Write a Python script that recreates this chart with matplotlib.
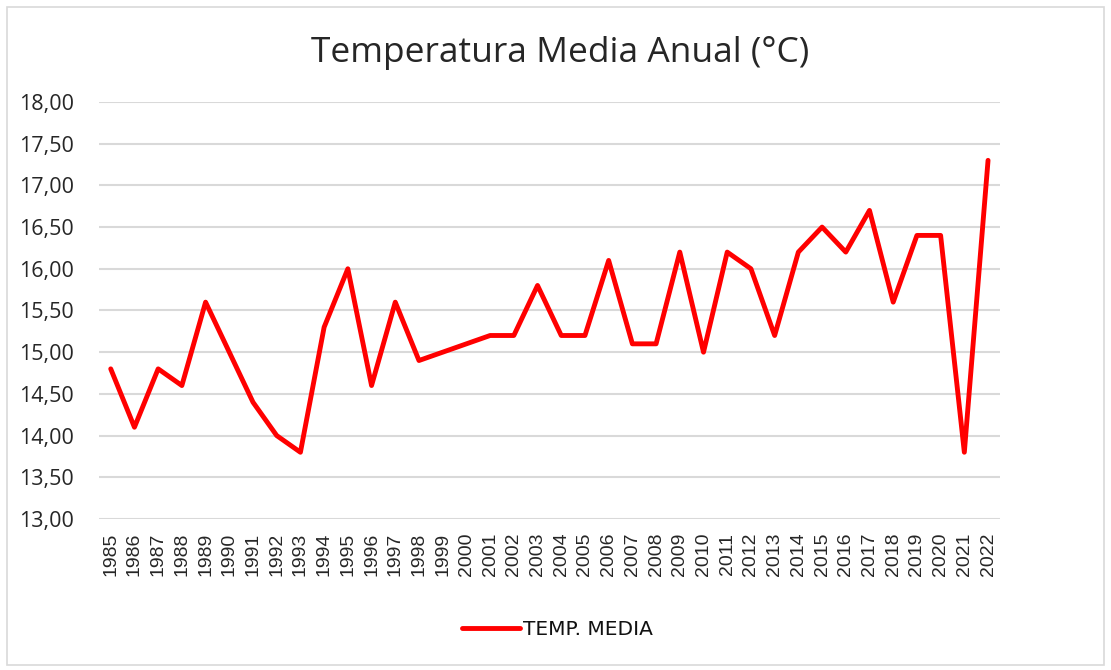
import numpy as np
import matplotlib.pyplot as plt
from matplotlib.patches import Rectangle

years = [str(y) for y in range(1985, 2023)]
temp_media = [14.8, 14.1, 14.8, 14.6, 15.6, 15.0, 14.4, 14.0, 13.8, 15.3,
              16.0, 14.6, 15.6, 14.9, 15.0, 15.1, 15.2, 15.2, 15.8, 15.2,
              15.2, 16.1, 15.1, 15.1, 16.2, 15.0, 16.2, 16.0, 15.2, 16.2,
              16.5, 16.2, 16.7, 15.6, 16.4, 16.4, 13.8, 17.3]
y_ticks = np.arange(13.0, 18.01, 0.5)

fig = plt.figure(figsize=(11.11, 6.70), dpi=100)
ax = fig.add_axes([0.089, 0.2254, 0.811, 0.6224])

x = np.arange(len(years))
ax.plot(x, temp_media, color='#ff0000', linewidth=3.5, label='TEMP. MEDIA',
        solid_joinstyle='round', solid_capstyle='round')

ax.set_xlim(-0.5, len(years) - 0.5)
ax.set_ylim(13, 18)
ax.set_yticks(y_ticks)
ax.set_yticklabels([f'{v:.2f}'.replace('.', ',') for v in y_ticks],
                   fontsize=15.5, color='#262626', family='Open Sans')
ax.set_xticks(x)
ax.set_xticklabels(years, rotation=90, fontsize=14, color='#262626',
                   family='Liberation Sans')
ax.tick_params(axis='y', length=0, pad=18)
ax.tick_params(axis='x', length=0, pad=10)
ax.grid(axis='y', color='#d9d9d9', linewidth=1.5)
ax.set_axisbelow(True)
for s in ax.spines.values():
    s.set_visible(False)

fig.text(0.504, 0.921, 'Temperatura Media Anual (°C)', ha='center', va='center',
         fontsize=25.5, color='#262626', family='Open Sans')

leg = fig.legend(loc='center', bbox_to_anchor=(0.502, 0.06), frameon=False,
                 prop={'family': 'DejaVu Sans', 'size': 14.5}, handlelength=2.9,
                 handletextpad=0.15, labelcolor='#111111')

fig.patches.append(Rectangle((0.006, 0.008), 0.988, 0.982, transform=fig.transFigure,
                             fill=False, edgecolor='#d9d9d9', linewidth=1.2))

fig.savefig('out.png', dpi=100)
